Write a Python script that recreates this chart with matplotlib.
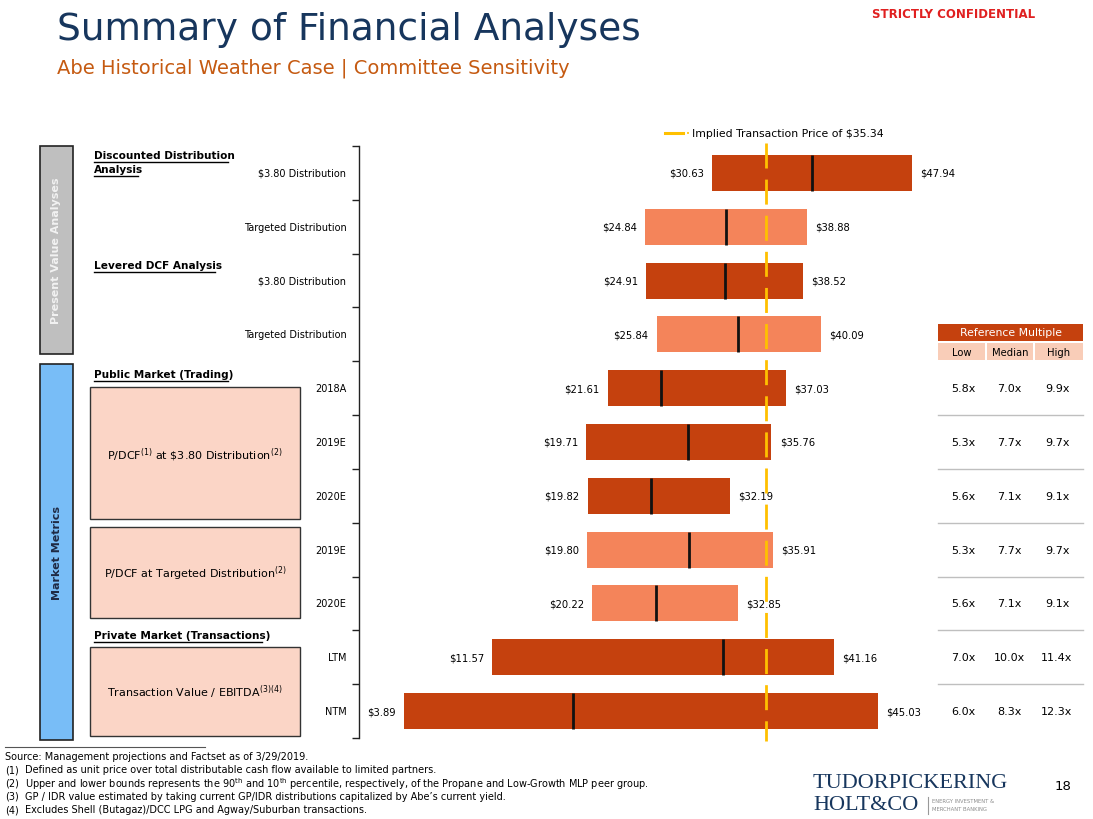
import matplotlib
matplotlib.use("Agg")
import matplotlib.pyplot as plt
from matplotlib.patches import Rectangle
from matplotlib.lines import Line2D

# ---------------- data ----------------
row_labels = ["$3.80 Distribution", "Targeted Distribution", "$3.80 Distribution",
              "Targeted Distribution", "2018A", "2019E", "2020E", "2019E", "2020E",
              "LTM", "NTM"]
lows = [30.63, 24.84, 24.91, 25.84, 21.61, 19.71, 19.82, 19.80, 20.22, 11.57, 3.89]
highs = [47.94, 38.88, 38.52, 40.09, 37.03, 35.76, 32.19, 35.91, 32.85, 41.16, 45.03]
medians = [39.3, 31.8, 31.7, 32.9, 26.2, 28.5, 25.3, 28.6, 25.8, 31.6, 18.6]
bar_kind = ["dark", "light", "dark", "light", "dark", "dark", "dark", "light", "light",
            "dark", "dark"]
implied_price = 35.34
mult_low = ["5.8x", "5.3x", "5.6x", "5.3x", "5.6x", "7.0x", "6.0x"]
mult_med = ["7.0x", "7.7x", "7.1x", "7.7x", "7.1x", "10.0x", "8.3x"]
mult_high = ["9.9x", "9.7x", "9.1x", "9.7x", "9.1x", "11.4x", "12.3x"]

DARK = "#C5410E"
LIGHT = "#F4845A"
NAVY = "#17365D"
FONT = "DejaVu Sans"
plt.rcParams["font.family"] = [FONT]
plt.rcParams["mathtext.fontset"] = "dejavusans"

W, H = 1093, 820
fig = plt.figure(figsize=(W / 100, H / 100), dpi=100)


def fx(x):
    return x / W


def fy(y):
    return 1 - y / H


def ftext(x, y, s, **kw):
    kw.setdefault("family", FONT)
    return fig.text(fx(x), fy(y), s, **kw)


def frect(x0, y0, x1, y1, **kw):
    r = Rectangle((fx(x0), fy(y1)), fx(x1) - fx(x0), fy(y0) - fy(y1),
                  transform=fig.transFigure, **kw)
    fig.add_artist(r)
    return r


def fline(x0, y0, x1, y1, **kw):
    fig.add_artist(Line2D([fx(x0), fx(x1)], [fy(y0), fy(y1)],
                          transform=fig.transFigure, **kw))


# ---------------- header ----------------
ftext(57, 30, "Summary of Financial Analyses", fontsize=27, color=NAVY,
      va="center", ha="left")
ftext(57, 68, "Abe Historical Weather Case | Committee Sensitivity", fontsize=14,
      color="#C55A11", va="center", ha="left")
ftext(1035, 15, "STRICTLY CONFIDENTIAL", fontsize=8.5, color="#E02020",
      weight="bold", va="center", ha="right")

# ---------------- main axes ----------------
ax_left, ax_right, ax_top, ax_bot = 359, 925, 147, 739
ax = fig.add_axes([fx(ax_left), fy(ax_bot), fx(ax_right) - fx(ax_left),
                   fy(ax_top) - fy(ax_bot)])
px_per = 11.53
ax.set_xlim(0, (ax_right - ax_left) / px_per)
n = len(lows)
ax.set_ylim(n, 0)
ax.patch.set_alpha(0)
for s in ["top", "right", "bottom"]:
    ax.spines[s].set_visible(False)
ax.spines["left"].set_linewidth(1.0)
ax.spines["left"].set_color("#222222")
ax.set_xticks([])
ax.set_yticks(range(n + 1))
ax.set_yticklabels([])
ax.tick_params(axis="y", direction="out", length=5, width=1, color="#222222")

ys = [i + 0.5 for i in range(n)]
colors = [DARK if k == "dark" else LIGHT for k in bar_kind]
ax.barh(ys, [h - l for l, h in zip(lows, highs)], left=lows, height=0.67,
        color=colors, edgecolor="none", zorder=2)
for y, m in zip(ys, medians):
    ax.plot([m, m], [y - 0.335, y + 0.335], color="#111111", lw=2, zorder=4,
            solid_capstyle="butt")
for y, l, h in zip(ys, lows, highs):
    ax.annotate(f"${l:.2f}", (l, y), xytext=(-6, 0), textcoords="offset points",
                ha="right", va="center", fontsize=7.2, annotation_clip=False)
    ax.annotate(f"${h:.2f}", (h, y), xytext=(6, 0), textcoords="offset points",
                ha="left", va="center", fontsize=7.2, annotation_clip=False)
ax.plot([implied_price, implied_price], [-0.05, n + 0.05], color="#FFC000", lw=2,
        ls=(0, (9, 4)), zorder=3, clip_on=False)

# row labels
for y, lab in zip(ys, row_labels):
    ax.annotate(lab, (0, y), xytext=(-9, 0), textcoords="offset points",
                ha="right", va="center", fontsize=7, annotation_clip=False)

# ---------------- legend ----------------
fline(665, 134, 683, 134, color="#FFC000", lw=2.2)
ftext(688, 134, "•", fontsize=5, color="#FFC000", va="center", ha="center")
ftext(692, 134, "Implied Transaction Price of $35.34", fontsize=7.8, va="center",
      ha="left")

# ---------------- left side panels ----------------
frect(40, 147, 73, 355, facecolor="#BFBFBF", edgecolor="#222222", lw=1.2)
ftext(56.5, 251, "Present Value Analyses", rotation=90, fontsize=8, weight="bold",
      color="#F2F2F2", va="center", ha="center")
frect(40, 365, 73, 741, facecolor="#78BDF7", edgecolor="#222222", lw=1.2)
ftext(56.5, 553, "Market Metrics", rotation=90, fontsize=8, weight="bold",
      color="#1F2A44", va="center", ha="center")


def header(x, y, s):
    t = ftext(x, y, s, fontsize=7.6, weight="bold", va="center", ha="left")
    return t


def underline(x0, x1, y):
    fline(x0, y, x1, y, color="black", lw=1)


header(94, 156, "Discounted Distribution")
underline(94, 228, 163)
header(94, 170, "Analysis")
underline(94, 138, 177)
header(94, 266, "Levered DCF Analysis")
underline(94, 215, 273)
header(94, 375, "Public Market (Trading)")
underline(94, 228, 382)
header(94, 636, "Private Market (Transactions)")
underline(94, 262, 643)

frect(90, 388, 300, 520, facecolor="#FBD5C6", edgecolor="#333333", lw=1)
frect(90, 528, 300, 619, facecolor="#FBD5C6", edgecolor="#333333", lw=1)
frect(90, 648, 300, 737, facecolor="#FBD5C6", edgecolor="#333333", lw=1)
ftext(195, 455, r"P/DCF$^{(1)}$ at \$3.80 Distribution$^{(2)}$", fontsize=8,
      va="center", ha="center")
ftext(195, 574, r"P/DCF at Targeted Distribution$^{(2)}$", fontsize=8,
      va="center", ha="center")
ftext(195, 692, r"Transaction Value / EBITDA$^{(3)(4)}$", fontsize=8,
      va="center", ha="center")

# ---------------- reference multiple table ----------------
frect(938, 325, 1083, 342, facecolor=DARK, edgecolor="none")
ftext(1010.5, 333.5, "Reference Multiple", fontsize=7.8, color="white",
      va="center", ha="center")
cols = [(938, 985), (987, 1033), (1035, 1083)]
for (c0, c1), lab in zip(cols, ["Low", "Median", "High"]):
    frect(c0, 344, c1, 361, facecolor="#F9CDB8", edgecolor="none")
    ftext((c0 + c1) / 2, 352.5, lab, fontsize=7.2, va="center", ha="center")
col_x = [963, 1009, 1057]
row_px = [ax_top + (ax_bot - ax_top) * (i + 4.5) / n for i in range(len(mult_low))]
for y, a, b, c in zip(row_px, mult_low, mult_med, mult_high):
    for x, s in zip(col_x, [a, b, c]):
        ftext(x, y, s, fontsize=8, va="center", ha="center")
for i in range(len(mult_low) - 1):
    yb = ax_top + (ax_bot - ax_top) * (i + 5) / n
    fline(938, yb, 1083, yb, color="#BFBFBF", lw=1)

# ---------------- footnotes ----------------
fline(5, 748, 205, 748, color="#555555", lw=0.8)
notes = [
    ("", "Source: Management projections and Factset as of 3/29/2019."),
    ("(1)", "Defined as unit price over total distributable cash flow available to limited partners."),
    ("(2)", r"Upper and lower bounds represents the 90$^{\mathrm{th}}$ and 10$^{\mathrm{th}}$ percentile, respectively, of the Propane and Low-Growth MLP peer group."),
    ("(3)", "GP / IDR value estimated by taking current GP/IDR distributions capitalized by Abe\u2019s current yield."),
    ("(4)", "Excludes Shell (Butagaz)/DCC LPG and Agway/Suburban transactions."),
]
NARROW = ["Liberation Sans Narrow", "DejaVu Sans"]
for i, (num, s) in enumerate(notes):
    y = 757 + i * 13.3
    if num:
        fig.text(fx(5), fy(y), num, fontsize=7, va="center", ha="left", family=NARROW)
        fig.text(fx(25), fy(y), s, fontsize=7, va="center", ha="left", family=NARROW)
    else:
        fig.text(fx(5), fy(y), s, fontsize=7, va="center", ha="left", family=NARROW)

# ---------------- logo & page ----------------
fig.text(fx(813), fy(784), "TUDORPICKERING", fontsize=16, color=NAVY, va="center",
         ha="left", family="Liberation Serif")
fig.text(fx(813), fy(806), "HOLT&CO", fontsize=16, color=NAVY, va="center",
         ha="left", family="Liberation Serif")
fline(928, 798, 928, 815, color="#999999", lw=0.8)
ftext(932, 802, "ENERGY INVESTMENT &", fontsize=3.8, color="#8C8C8C", va="center",
      ha="left")
ftext(932, 810, "MERCHANT BANKING", fontsize=3.8, color="#8C8C8C", va="center",
      ha="left")
ftext(1063, 787, "18", fontsize=9.5, va="center", ha="center")

fig.savefig("out.png", dpi=100)
